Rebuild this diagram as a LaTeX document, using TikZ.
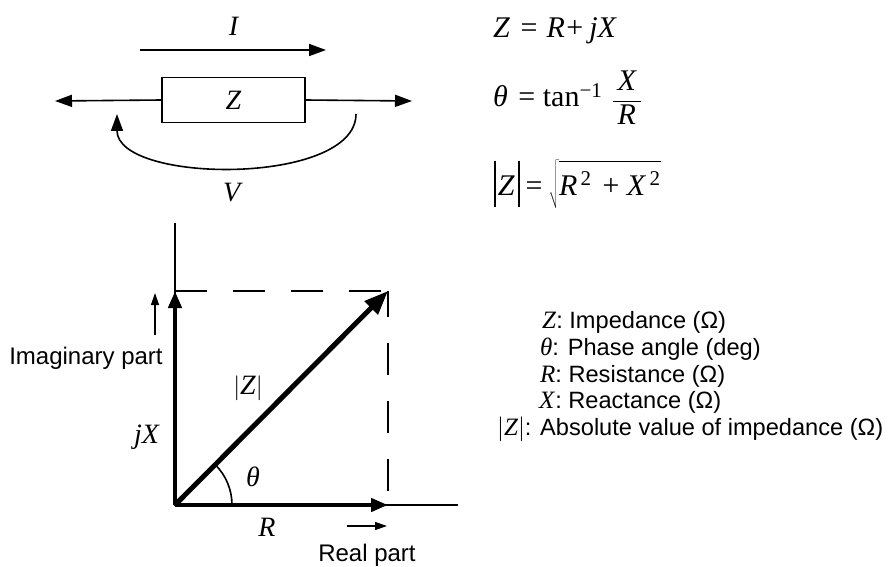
\documentclass[tikz,border=0pt]{standalone}
\usepackage{fontspec}
\setmainfont{Liberation Serif}
\newfontfamily\legsans{Liberation Sans}
\usetikzlibrary{arrows.meta}
\newcommand\mvar[1]{\textit{#1}}
\newcommand\tallbar{\vrule height 34pt depth 12pt width 1.3pt}
\begin{document}
\begin{tikzpicture}[x=1pt,y=-1pt,
  font=\fontsize{28}{32}\selectfont,
  thinline/.style={line width=1.6pt},
  smalltip/.style={-{Triangle[length=17pt,width=12pt]}},
  axisline/.style={line width=2pt},
  vecline/.style={line width=4.2pt,-{Triangle[length=17pt,width=13pt]}},
  diagvec/.style={line width=5pt,-{Triangle[length=24pt,width=18pt]}},
  hint/.style={line width=1.4pt,-{Triangle[length=12pt,width=8pt]}},
  dashline/.style={line width=1.8pt,dash pattern=on 32pt off 26pt},
  lbl/.style={inner sep=0pt},
  sanslbl/.style={inner sep=0pt,font=\legsans\fontsize{24}{28}\selectfont},
  leg/.style={inner sep=0pt,anchor=base west,font=\fontsize{25}{30}\selectfont},
  eq/.style={inner sep=0pt,anchor=base west,font=\fontsize{30}{34}\selectfont}]
\useasboundingbox (0,0) rectangle (894,567);

% ---- circuit element ----
\node[draw,thinline,minimum width=143pt,minimum height=45pt,inner sep=0pt] (box) at (233.5,100) {\mvar{Z}};
\coordinate (Lend) at (55,101);
\coordinate (Rend) at (412,101);
\draw[thinline,smalltip] (box.west) -- (Lend);
\draw[thinline,smalltip] (box.east) -- (Rend);

\coordinate (Ia) at (140,50);
\coordinate (Ib) at (326,50);
\draw[thinline,smalltip] (Ia) -- (Ib);
\node[lbl] (Ilab) at (234,26) {\mvar{I}};

\coordinate (Vs) at (356,114);
\coordinate (Ve) at (117,114);
\draw[thinline,smalltip] (Vs) .. controls (356,186) and (117,184) .. (Ve);
\node[lbl] (Vlab) at (233,193) {\mvar{V}};

% ---- equations ----
\node[eq] (eq1) at (493,38) {\mvar{Z}\hspace{.35em}=\hspace{.3em}\mvar{R}\hspace{.05em}+\hspace{.2em}\mvar{jX}};
\node[eq] (eq2) at (493,107) {\mvar{θ}\hspace{.35em}=\hspace{.25em}tan\textsuperscript{−1}\hspace{.3em}$\displaystyle\frac{\hbox{\itshape\,X\,}}{\hbox{\itshape\,R\,}}$};
\node[eq] (eq3) at (494,195) {\tallbar\hspace{.08em}\mvar{Z}\hspace{.12em}\tallbar\hspace{.2em}=\hspace{.2em}$\sqrt{\vphantom{\vrule height 32pt depth 12pt}\hbox{\itshape R\hspace{.1em}\textsuperscript{\upshape 2}\hspace{.3em}+\hspace{.2em}X\hspace{.15em}\textsuperscript{\upshape 2}}}$};

% ---- phasor diagram ----
\coordinate (O) at (175,505);
\coordinate (Ytop) at (175,223);
\coordinate (Ytip) at (175,291);
\coordinate (P) at (388,291);
\coordinate (Xtip) at (388,505);
\coordinate (Xend) at (458,505);

\draw[axisline] (Ytop) -- (O) -- (Xend);
\draw[dashline] (Ytip) -- (P);
\draw[dashline,dash phase=6pt] (P) -- (Xtip);
\draw[vecline] (O) -- (Ytip);
\draw[vecline] (O) -- (Xtip);
\draw[diagvec] (O) -- (P);
\draw[thinline] ([shift={(57,0)}]O) arc[start angle=0,end angle=-45,radius=57];

\node[lbl] (absZ) at (248,388) {$\left|\hbox{\itshape Z}\right|$};
\node[lbl] (jX) at (147,437) {\mvar{jX}};
\node[lbl] (th) at (253,477) {\mvar{θ}};
\node[lbl] (Rl) at (267,527) {\mvar{R}};

\coordinate (ia) at (155,335);
\coordinate (ib) at (155,293);
\draw[hint] (ia) -- (ib);
\node[sanslbl] (imag) at (86,358) {Imaginary part};
\coordinate (ra) at (347,526);
\coordinate (rb) at (387,526);
\draw[hint] (ra) -- (rb);
\node[sanslbl] (real) at (367,555) {Real part};

% ---- legend ----
\node[leg] (l1) at (542,328) {\mvar{Z}{\legsans\fontsize{23.6}{28}\selectfont: Impedance (Ω)}};
\node[leg] (l2) at (540,355) {\mvar{θ}{\legsans\fontsize{23.6}{28}\selectfont: Phase angle (deg)}};
\node[leg] (l3) at (540,382) {\mvar{R}{\legsans\fontsize{23.6}{28}\selectfont: Resistance (Ω)}};
\node[leg] (l4) at (539,408) {\mvar{X}{\legsans\fontsize{23.6}{28}\selectfont: Reactance (Ω)}};
\node[leg] (l5) at (497,435) {$\left|\hbox{\itshape Z}\right|${\legsans\fontsize{23.6}{28}\selectfont: Absolute value of impedance (Ω)}};
\end{tikzpicture}
\end{document}
